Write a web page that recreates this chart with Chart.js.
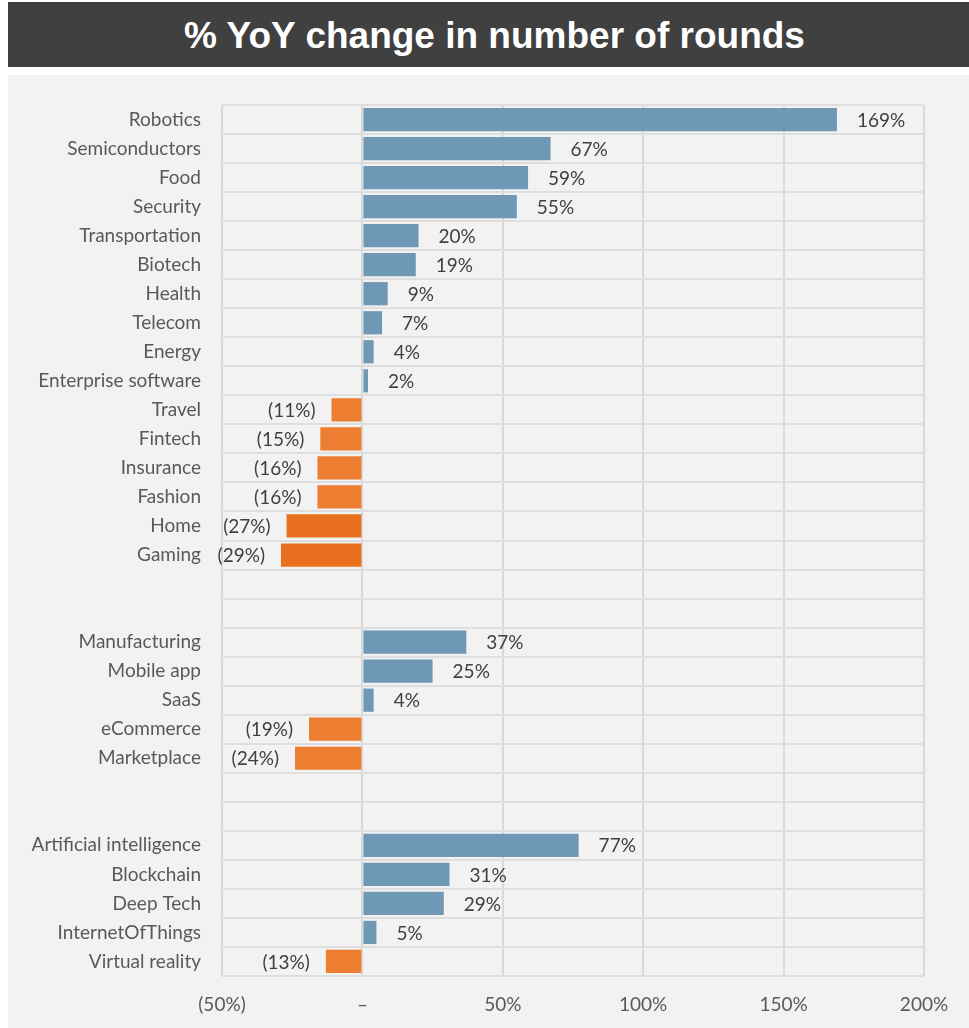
<!DOCTYPE html>
<html>
<head>
<meta charset="utf-8">
<script src="https://cdn.jsdelivr.net/npm/chart.js@4.4.1/dist/chart.umd.min.js"></script>
<style>
  html, body { margin: 0; padding: 0; background: #ffffff; }
  body { width: 969px; height: 1028px; position: relative; overflow: hidden; }
  #title {
    position: absolute; left: 8px; top: 2px; width: 961px; height: 65px;
    box-sizing: border-box; padding-left: 12px;
    background: #404040; color: #ffffff;
    font-family: "Liberation Sans", Arial, sans-serif; font-weight: bold; font-size: 37px;
    line-height: 67px; text-align: center;
  }
  #panel {
    position: absolute; left: 8px; top: 75px; width: 961px; height: 953px;
    background: #f2f2f2;
  }
  #chart { display: block; }
</style>
</head>
<body>
<div id="title">% YoY change in number of rounds</div>
<div id="panel"><canvas id="chart" width="961" height="953"></canvas></div>
<script>
// Sectors, in display order; blank entries are spacer rows between groups
const categories = [
  'Robotics', 'Semiconductors', 'Food', 'Security', 'Transportation', 'Biotech',
  'Health', 'Telecom', 'Energy', 'Enterprise software', 'Travel', 'Fintech',
  'Insurance', 'Fashion', 'Home', 'Gaming', '', ' ',
  'Manufacturing', 'Mobile app', 'SaaS', 'eCommerce', 'Marketplace', '  ', '   ',
  'Artificial intelligence', 'Blockchain', 'Deep Tech', 'InternetOfThings', 'Virtual reality'
];

// % year-over-year change in number of rounds (null = spacer row)
const yoyChange = [
  169, 67, 59, 55, 20, 19,
  9, 7, 4, 2, -11, -15,
  -16, -16, -27, -29, null, null,
  37, 25, 4, -19, -24, null, null,
  77, 31, 29, 5, -13
];

// Value axis ticks and their labels
const xTickValues = [-50, 0, 50, 100, 150, 200];
const xTickLabels = ['(50%)', '–', '50%', '100%', '150%', '200%'];

const BLUE = '#6f97b6';
const ORANGE = '#ed7d31';
const ORANGE_DARK = '#e8701f';
const LABEL_FONT = '"Lato", "Open Sans", sans-serif';
const LABEL_SIZE = 19;

function pct(v) {
  return v < 0 ? '(' + Math.abs(v) + '%)' : v + '%';
}

// Writes each bar's value just past its end
const valueLabels = {
  id: 'valueLabels',
  afterDatasetsDraw(chart) {
    const ctx = chart.ctx;
    const meta = chart.getDatasetMeta(0);
    ctx.save();
    ctx.font = LABEL_SIZE + 'px ' + LABEL_FONT;
    ctx.fillStyle = '#404040';
    ctx.textBaseline = 'middle';
    meta.data.forEach((bar, i) => {
      const v = yoyChange[i];
      if (v === null) return;
      if (v >= 0) {
        ctx.textAlign = 'left';
        ctx.fillText(pct(v), bar.x + 20, bar.y + 1);
      } else {
        ctx.textAlign = 'right';
        ctx.fillText(pct(v), bar.x - 16, bar.y + 1);
      }
    });
    ctx.restore();
  }
};

new Chart(document.getElementById('chart'), {
  type: 'bar',
  data: {
    labels: categories,
    datasets: [{
      data: yoyChange,
      backgroundColor: (c) => {
        const v = c.raw;
        if (v >= 0) return BLUE;
        return v <= -25 ? ORANGE_DARK : ORANGE;
      },
      borderWidth: 0,
      categoryPercentage: 1,
      barPercentage: 0.8
    }]
  },
  options: {
    indexAxis: 'y',
    responsive: false,
    animation: false,
    events: [],
    layout: { padding: { top: 30, right: 45, left: 0, bottom: 0 } },
    plugins: {
      legend: { display: false },
      tooltip: { enabled: false },
      title: { display: false }
    },
    scales: {
      x: {
        min: -50,
        max: 200,
        afterBuildTicks: (axis) => { axis.ticks = xTickValues.map(v => ({ value: v })); },
        afterFit: (axis) => { axis.height = 52; },
        grid: { color: '#d9d9d9', lineWidth: 2, drawTicks: false },
        border: { display: false },
        ticks: {
          padding: 17,
          color: '#595959',
          font: { family: LABEL_FONT, size: LABEL_SIZE },
          maxRotation: 0,
          callback: (value) => {
            const i = xTickValues.indexOf(value);
            return i >= 0 ? xTickLabels[i] : '';
          }
        }
      },
      y: {
        afterFit: (axis) => {
          axis.width = 214;
          axis.paddingTop = 0;
          axis.paddingBottom = 0;
        },
        grid: { offset: true, color: '#dedede', lineWidth: 2, drawTicks: false },
        border: { display: false },
        ticks: {
          padding: 21,
          color: '#595959',
          font: { family: LABEL_FONT, size: LABEL_SIZE },
          autoSkip: false
        }
      }
    }
  },
  plugins: [valueLabels]
});
</script>
</body>
</html>
